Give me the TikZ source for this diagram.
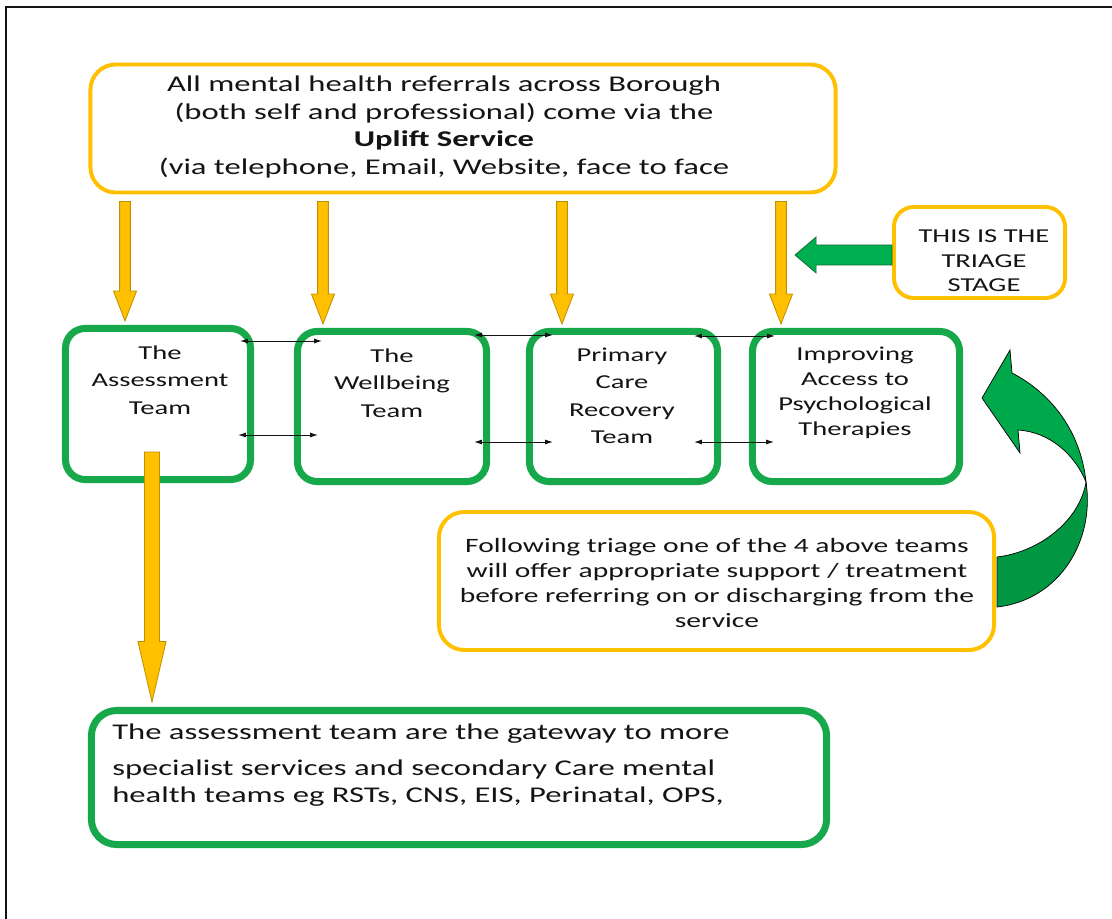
\documentclass[tikz,border=0pt]{standalone}
\usepackage{fontspec}
\setmainfont{Carlito}[FakeStretch=1.45]
\usetikzlibrary{calc,positioning,arrows.meta}

\definecolor{gold}{RGB}{255,192,0}
\definecolor{golddark}{RGB}{191,144,0}
\definecolor{teamgreen}{RGB}{24,168,76}
\definecolor{arrowgreen}{RGB}{0,176,80}
\definecolor{ribbongreen}{RGB}{0,168,76}
\definecolor{ribbondark}{RGB}{0,150,66}
\definecolor{ink}{RGB}{20,20,20}

\tikzset{
  frame/.style={draw=ink, line width=1.5pt},
  yelbox/.style={draw=gold, line width=2.8pt, fill=white, rounded corners=17pt, inner sep=0pt},
  teambox/.style={draw=teamgreen, line width=5pt, fill=white, rounded corners=14pt, inner sep=0pt},
  yarrow/.style={fill=gold, draw=golddark, line width=0.6pt},
  garrow/.style={fill=arrowgreen, draw=teamgreen!60!black, line width=0.5pt},
  ribbon/.style={fill=ribbongreen, draw=black, line width=0.5pt},
  link/.style={<->, draw=ink, line width=0.7pt, >={Latex[length=5.5pt,width=3.5pt]}},
  txt/.style={text=ink, align=center, inner sep=0pt},
  toptxt/.style={txt, font=\fontsize{16}{19.8}\selectfont},
  teamtxt/.style={txt, font=\fontsize{14}{19.5}\selectfont},
  followtxt/.style={txt, font=\fontsize{14.5}{17.7}\selectfont},
  triagetxt/.style={txt, font=\fontsize{14}{17.5}\selectfont},
  gatetxt/.style={txt, align=left, font=\fontsize{16}{19.1}\selectfont}
}

% block arrow pointing down: [style]{from}{tip}{half shaft}{half head}{head length}
\newcommand\blockdown[6][yarrow]{%
  \filldraw[#1] let \p1=(#2), \p2=(#3) in
    (\x1-#4,\y1) -- (\x1+#4,\y1) -- (\x1+#4,\y2+#6) -- (\x1+#5,\y2+#6) -- (\x1,\y2)
    -- (\x1-#5,\y2+#6) -- (\x1-#4,\y2+#6) -- cycle;}

\begin{document}
\begin{tikzpicture}[x=0.025cm,y=-0.025cm,>=Latex]
  \useasboundingbox (0,0) rectangle (1112,919);
  \draw[frame] (6,919) -- (6,7) -- (1112,7);

  % curved green arrow (behind the yellow box)
  \filldraw[ribbon] (982,398) -- (1010,350) -- (1012,373)
    .. controls (1045,390) and (1080,425) .. (1086,482)
    .. controls (1075,455) and (1050,432) .. (1018,430) -- (1020,453) -- cycle;
  \filldraw[ribbon, fill=ribbondark] (1086,482)
    .. controls (1095,540) and (1060,600) .. (997,607) -- (997,557)
    .. controls (1040,552) and (1080,520) .. (1086,482) -- cycle;

  % triage arrow
  \coordinate (tritip) at (795,255);
  \node[yelbox, minimum width=4.275cm, minimum height=2.275cm, rounded corners=14pt] (triage) at (979.5,252.5) {};
  \filldraw[garrow] let \p1=(triage.west), \p2=(tritip) in
    (\x1,\y2-7.1pt) -- (\x2+15pt,\y2-7.1pt) -- (\x2+15pt,\y2-12.8pt) -- (\x2,\y2)
    -- (\x2+15pt,\y2+12.8pt) -- (\x2+15pt,\y2+7.1pt) -- (\x1,\y2+7.1pt) -- cycle;

  % boxes
  \node[yelbox, minimum width=18.625cm, minimum height=3.2cm, rounded corners=18pt] (uplift) at (463,128.5) {};
  \node[teambox, minimum width=4.625cm, minimum height=3.775cm] (assess) at (158,404) {};
  \node[teambox, minimum width=4.725cm, minimum height=3.75cm] (wellbeing) at (392,406.5) {};
  \node[teambox, minimum width=4.7cm, minimum height=3.75cm] (primary) at (623.5,406.5) {};
  \node[teambox, minimum width=5.175cm, minimum height=3.75cm] (iapt) at (856,406.5) {};
  \node[yelbox, minimum width=13.875cm, minimum height=3.45cm, rounded corners=18pt] (follow) at (716.5,581) {};
  \node[teambox, minimum width=18.375cm, minimum height=3.35cm, rounded corners=18pt] (gateway) at (459,777.5) {};

  % texts
  \node[toptxt] (uplifttxt) at (444,127) {All mental health referrals across Borough\\(both self and professional) come via the\\\textbf{Uplift Service}\\(via telephone, Email, Website, face to face};
  \node[teamtxt] (assesstxt) at (160,380) {The\\Assessment\\Team};
  \node[teamtxt] (welltxt) at (392,383) {The\\Wellbeing\\Team};
  \node[teamtxt] (primtxt) at (622,396) {Primary\\Care\\Recovery\\Team};
  \node[teamtxt, font=\fontsize{14}{17.7}\selectfont] (iapttxt) at (855,393) {Improving\\Access to\\Psychological\\Therapies};
  \node[triagetxt] (triagetxt) at (984,261) {THIS IS THE\\TRIAGE\\STAGE};
  \node[followtxt] (followtxt) at (717,583) {Following triage one of the 4 above teams\\will offer appropriate support / treatment\\before referring on or discharging from the\\service};
  \node[gatetxt, anchor=west] (gatetxt) at (112,765) {The assessment team are the gateway to more\\[7pt]specialist services and secondary Care mental\\health teams eg RSTs, CNS, EIS, Perinatal, OPS,};

  % yellow arrows down to the teams
  \foreach \t/\x in {assess/125,wellbeing/323,primary/562,iapt/781}{
    \coordinate (drop) at (\x,0);
    \blockdown{$(uplift.south -| drop)+(0,7)$}{$(\t.north -| drop)+(0,-4)$}{3.8pt}{8.2pt}{21.3pt}
  }
  \coordinate (assessdrop) at (152,452);
  \blockdown{assessdrop}{$(gateway.north -| assessdrop)+(0,-5)$}{5.3pt}{10pt}{43pt}

  % links between the teams
  \foreach \a/\b/\y/\s/\e in {assess/wellbeing/341/14/28, assess/wellbeing/435/16/24,
      wellbeing/primary/335/16/27, wellbeing/primary/442/16/27,
      primary/iapt/336/27/26, primary/iapt/442/27/25}
    \draw[link] ($(\a.east |- 0,\y)+(-\s,0)$) -- ($(\b.west |- 0,\y)+(\e,0)$);
\end{tikzpicture}
\end{document}
